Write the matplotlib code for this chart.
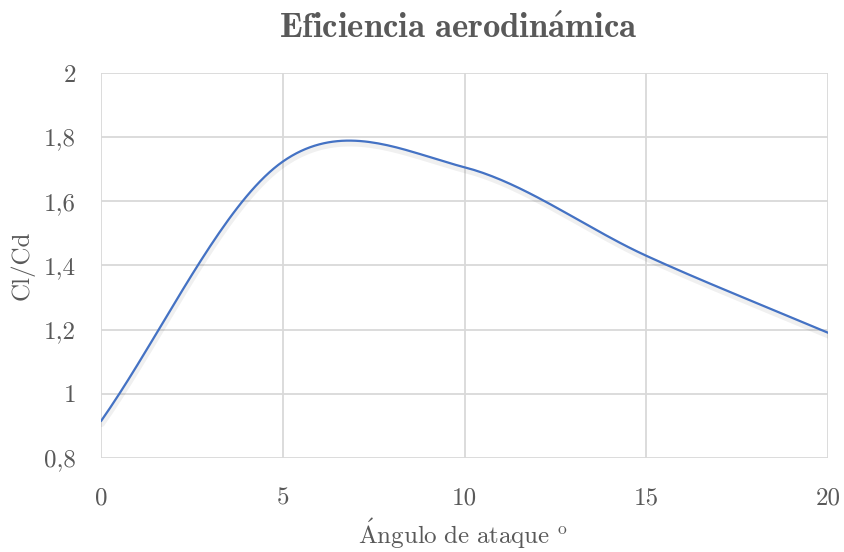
import numpy as np
import matplotlib
matplotlib.use("Agg")
import matplotlib.pyplot as plt
import matplotlib.patheffects as pe
from matplotlib.ticker import FuncFormatter

# angulo de ataque (grados) y eficiencia Cl/Cd
angulo = [0, 5, 10, 15, 20]
clcd = [0.915, 1.724, 1.706, 1.430, 1.190]

xticks = [0, 5, 10, 15, 20]
yticks = [0.8, 1.0, 1.2, 1.4, 1.6, 1.8, 2.0]

gris = "#595959"
plt.rcParams['font.family'] = ['cmr10', 'DejaVu Serif']
plt.rcParams['mathtext.fontset'] = 'cm'
plt.rcParams['axes.unicode_minus'] = False
plt.rcParams['axes.formatter.use_mathtext'] = True


def catmull(x, y, n=40):
    # linea suavizada tipo Excel entre los puntos
    x = np.asarray(x, float); y = np.asarray(y, float)
    px = np.concatenate([[2*x[0]-x[1]], x, [2*x[-1]-x[-2]]])
    py = np.concatenate([[2*y[0]-y[1]], y, [2*y[-1]-y[-2]]])
    xs, ys = [], []
    t = np.linspace(0, 1, n, endpoint=False)
    for i in range(1, len(px)-2):
        for p, out in ((px, xs), (py, ys)):
            p0, p1, p2, p3 = p[i-1], p[i], p[i+1], p[i+2]
            out.extend(0.5*((2*p1) + (-p0+p2)*t + (2*p0-5*p1+4*p2-p3)*t**2 + (-p0+3*p1-3*p2+p3)*t**3))
    xs.append(x[-1]); ys.append(y[-1])
    return xs, ys


fig = plt.figure(figsize=(8.44, 5.52), dpi=100)
ax = fig.add_axes([0.1197, 0.1703, 0.8617, 0.6975])

sx, sy = catmull(angulo, clcd)
ax.plot(sx, sy, color="#4472c4", lw=1.6, solid_capstyle='round',
        path_effects=[pe.SimpleLineShadow(offset=(0.5, -2), shadow_color='black', alpha=0.06, linewidth=4.5),
                      pe.Normal()])

ax.set_xlim(0, 20)
ax.set_ylim(0.8, 2.0)
ax.set_xticks(xticks)
ax.set_yticks(yticks)
ax.xaxis.set_major_formatter(FuncFormatter(lambda v, p: "%d" % v))
ax.yaxis.set_major_formatter(FuncFormatter(lambda v, p: ("%g" % round(v, 1)).replace('.', ',')))
ax.grid(True, color="#d9d9d9", lw=1.3)
ax.set_axisbelow(True)
for s in ax.spines.values():
    s.set_visible(False)
ax.tick_params(length=0, labelsize=18, labelcolor=gris)
ax.tick_params(axis='y', pad=18)
ax.tick_params(axis='x', pad=21)

fig.text(0.543, 0.948, r"$\mathbf{Eficiencia\ aerodin\acute{a}mica}$", fontsize=25, color=gris,
         ha='center', va='center')
fig.text(0.548, 0.034, r"$\mathrm{\acute{A}ngulo\ de\ ataque}\ ^{\mathrm{o}}$", fontsize=18,
         color=gris, ha='center', va='center')
fig.text(0.026, 0.52, "Cl/Cd", fontsize=18, color=gris, rotation=90, ha='center', va='center')

fig.savefig("out.png", dpi=100)
